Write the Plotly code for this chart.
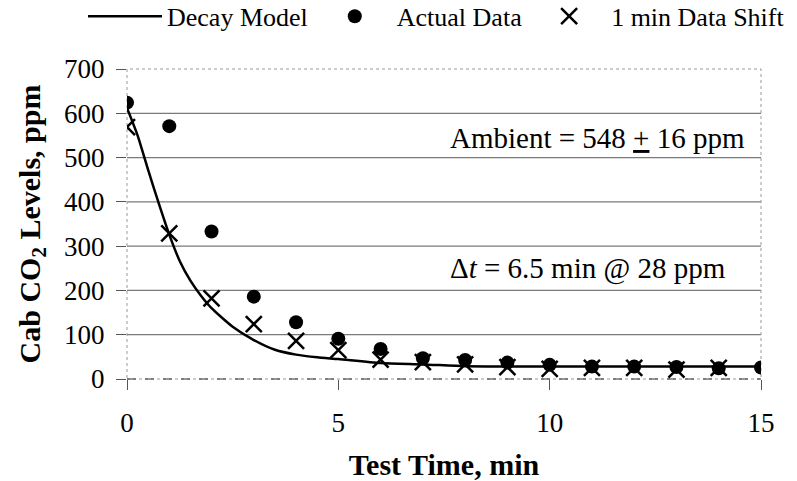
import plotly.graph_objects as go

# ---- data ----
model_t = [0, 0.25, 0.5, 0.75, 1, 1.25, 1.5, 1.75, 2, 2.5, 3, 3.5, 4, 4.5, 5, 6, 7, 8, 9, 10, 11, 12, 13, 14, 15]
model_ppm = [612, 550, 472, 397, 326, 266, 222, 188, 160, 118, 88, 66, 55, 49, 45, 36, 33, 29, 28, 28, 28, 28, 28, 28, 28]

actual_t = [0, 1, 2, 3, 4, 5, 6, 7, 8, 9, 10, 11, 12, 13, 14, 15]
actual_ppm = [624, 571, 333, 186, 128, 91, 68, 47, 43, 37, 32, 28, 28, 27, 24, 26]

shift_t = [0, 1, 2, 3, 4, 5, 6, 7, 8, 9, 10, 11, 12, 13, 14]
shift_ppm = [569, 329, 182, 124, 86, 65, 44, 38, 33, 27, 23, 25, 25, 21, 25]

x_ticks = [0, 5, 10, 15]
y_ticks = [0, 100, 200, 300, 400, 500, 600, 700]
grid_vals = [100, 200, 300, 400, 500, 600]

FONT = "Liberation Serif"

fig = go.Figure()
fig.add_trace(go.Scatter(x=model_t, y=model_ppm, mode="lines", name="Decay Model",
                         line=dict(color="black", width=2.5, shape="spline", smoothing=0.6)))
fig.add_trace(go.Scatter(x=actual_t, y=actual_ppm, mode="markers", name="Actual Data",
                         marker=dict(symbol="circle", size=14, color="black")))
fig.add_trace(go.Scatter(x=shift_t, y=shift_ppm, mode="markers", name="1 min Data Shift",
                         marker=dict(symbol="x-thin", size=16, color="black",
                                     line=dict(color="black", width=2.5))))

# gridlines
for g in grid_vals:
    fig.add_shape(type="line", xref="paper", x0=0, x1=1, yref="y", y0=g, y1=g,
                  line=dict(color="#7a7a7a", width=1.2), layer="below")
# plot-area border (dotted)
fig.add_shape(type="rect", xref="paper", yref="paper", x0=0, x1=1, y0=0, y1=1,
              line=dict(color="#9a9a9a", width=1, dash="dot"), layer="below")
fig.add_shape(type="line", xref="paper", yref="paper", x0=0, x1=1, y0=0, y1=0,
              line=dict(color="#333333", width=1.2, dash="dash"), layer="below")

fig.add_annotation(x=7.6, y=545, xref="x", yref="y", xanchor="left", yanchor="middle",
                   text="Ambient = 548 <u>+</u> 16 ppm", showarrow=False,
                   font=dict(family=FONT, size=29, color="black"))
fig.add_annotation(x=7.6, y=250, xref="x", yref="y", xanchor="left", yanchor="middle",
                   text="Δ<i>t</i> = 6.5 min @ 28 ppm", showarrow=False,
                   font=dict(family=FONT, size=29, color="black"))

fig.update_layout(
    width=797, height=481,
    margin=dict(l=127, r=36, t=69, b=102, autoexpand=False),
    paper_bgcolor="white", plot_bgcolor="white",
    showlegend=True,
    legend=dict(orientation="h", x=-0.0694, xanchor="left", y=1.17, yanchor="middle",
                font=dict(family=FONT, size=26, color="black"), bgcolor="rgba(0,0,0,0)",
                itemwidth=74, tracegroupgap=0),
    xaxis=dict(range=[0, 15], tickvals=x_ticks, ticks="outside", ticklen=10, tickcolor="#555",
               showgrid=False, zeroline=False, showline=False,
               tickfont=dict(family=FONT, size=27, color="black"), ticklabelstandoff=10,
               title=dict(text="<b>Test Time, min</b>", font=dict(family=FONT, size=30, color="black"),
                          standoff=22)),
    yaxis=dict(range=[0, 700], tickvals=y_ticks, ticks="outside", ticklen=10, tickcolor="#555",
               showgrid=False, zeroline=False, showline=False,
               tickfont=dict(family=FONT, size=27, color="black"), ticklabelstandoff=6,
               title=dict(text="<b>Cab CO<sub>2</sub> Levels, ppm</b>",
                          font=dict(family=FONT, size=30, color="black"), standoff=14)),
)

fig.write_html("out.html")
